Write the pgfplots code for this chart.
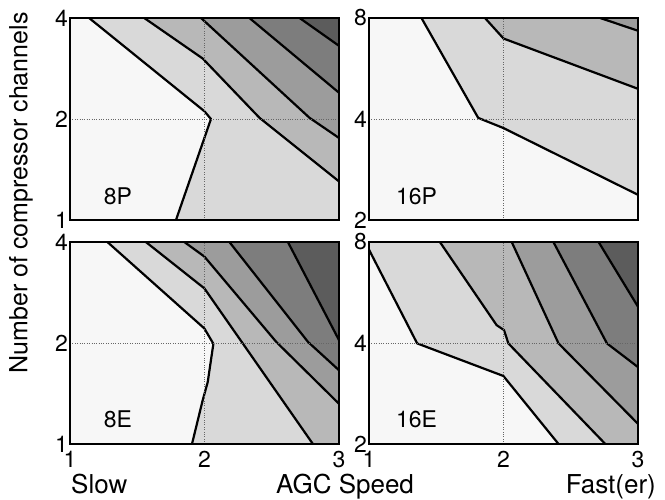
\documentclass[border=0pt]{standalone}
\usepackage{pgfplots}
\pgfplotsset{compat=1.18}
\usepackage{fontspec}
\setmainfont{TeX Gyre Heros}
\definecolor{c1}{HTML}{F7F7F7}
\definecolor{c2}{HTML}{D9D9D9}
\definecolor{c3}{HTML}{B8B8B8}
\definecolor{c4}{HTML}{9C9C9C}
\definecolor{c5}{HTML}{7D7D7D}
\definecolor{c6}{HTML}{5C5C5C}
\pgfplotsset{
  mypanel/.style={
    width=269bp, height=202bp, scale only axis, anchor=south west,
    xmin=1, xmax=3,
    xtick={1,2,3}, xticklabels={1,2,3},
    grid=major, major grid style={dotted, black!60, line width=0.8bp},
    axis line style={line width=2bp},
    major tick length=0pt,
    axis on top,
    axis background/.style={fill=c1},
    tick label style={font=\fontsize{23bp}{25bp}\selectfont},
    yticklabel style={inner sep=2bp},
    xticklabel style={inner sep=2bp, yshift=-5bp},
    /pgf/number format/assume math mode=true,
  },
}
\tikzset{
  cl/.style={black, line width=2.2bp, line join=round},
  plab/.style={anchor=base west, inner sep=0pt, font=\fontsize{23bp}{25bp}\selectfont},
}
\begin{document}
\begin{tikzpicture}
\path[use as bounding box] (0,0) rectangle (665bp,500bp);
% ---------- 8P ----------
\begin{axis}[mypanel, ymode=log, log basis y=2, at={(70bp,280bp)}, ymin=1, ymax=4, ytick={1,2,4}, yticklabels={1,2,4}, xticklabels={,,}]
\addplot[fill=c2,draw=none] coordinates {(1.142,4) (1.999,2.11) (2.048,2.0) (1.788,1) (3,1) (3,4)} -- cycle;
\addplot[fill=c3,draw=none] coordinates {(1.552,4) (1.986,3.03) (2.409,2.016) (3,1.303) (3,4)} -- cycle;
\addplot[fill=c4,draw=none] coordinates {(1.974,4) (2.781,2.016) (3,1.756) (3,4)} -- cycle;
\addplot[fill=c5,draw=none] coordinates {(2.334,4) (3,2.395) (3,4)} -- cycle;
\addplot[fill=c6,draw=none] coordinates {(2.707,4) (3,3.305) (3,4)} -- cycle;
\addplot[cl] coordinates {(1.142,4) (1.999,2.11) (2.048,2.0) (1.788,1)};
\addplot[cl] coordinates {(1.552,4) (1.986,3.03) (2.409,2.016) (3,1.303)};
\addplot[cl] coordinates {(1.974,4) (2.781,2.016) (3,1.756)};
\addplot[cl] coordinates {(2.334,4) (3,2.395)};
\addplot[cl] coordinates {(2.707,4) (3,3.305)};
\node[plab] at (rel axis cs:0.125,0.075) {8P};
\end{axis}
% ---------- 16P ----------
\begin{axis}[mypanel, ymode=log, log basis y=2, at={(369bp,280bp)}, ymin=2, ymax=8, ytick={2,4,8}, yticklabels={2,4,8}, xticklabels={,,}]
\addplot[fill=c2,draw=none] coordinates {(1.390,8) (1.812,4.03) (1.999,3.76) (3,2.377) (3,8)} -- cycle;
\addplot[fill=c3,draw=none] coordinates {(1.862,8) (2.0,6.95) (3,4.92) (3,8)} -- cycle;
\addplot[fill=c4,draw=none] coordinates {(2.719,8) (3,7.33) (3,8)} -- cycle;
\addplot[cl] coordinates {(1.390,8) (1.812,4.03) (1.999,3.76) (3,2.377)};
\addplot[cl] coordinates {(1.862,8) (2.0,6.95) (3,4.92)};
\addplot[cl] coordinates {(2.719,8) (3,7.33)};
\node[plab] at (rel axis cs:0.100,0.075) {16P};
\end{axis}
% ---------- 8E ----------
\begin{axis}[mypanel, ymode=log, log basis y=2, at={(70bp,56bp)}, ymin=1, ymax=4, ytick={1,2,4}, yticklabels={1,2,4}]
\addplot[fill=c2,draw=none] coordinates {(1.278,4) (1.999,2.21) (2.066,1.99) (2.024,1.53) (1.986,1.348) (1.907,1) (3,1) (3,4)} -- cycle;
\addplot[fill=c3,draw=none] coordinates {(1.564,4) (1.999,2.91) (2.806,1) (3,1) (3,4)} -- cycle;
\addplot[fill=c4,draw=none] coordinates {(1.850,4) (1.999,3.62) (2.533,2.016) (3,1.318) (3,4)} -- cycle;
\addplot[fill=c5,draw=none] coordinates {(2.185,4) (2.769,2.016) (3,1.659) (3,4)} -- cycle;
\addplot[fill=c6,draw=none] coordinates {(2.620,4) (3,2.04) (3,4)} -- cycle;
\addplot[cl] coordinates {(1.278,4) (1.999,2.21) (2.066,1.99) (2.024,1.53) (1.986,1.348) (1.907,1)};
\addplot[cl] coordinates {(1.564,4) (1.999,2.91) (2.806,1)};
\addplot[cl] coordinates {(1.850,4) (1.999,3.62) (2.533,2.016) (3,1.318)};
\addplot[cl] coordinates {(2.185,4) (2.769,2.016) (3,1.659)};
\addplot[cl] coordinates {(2.620,4) (3,2.04)};
\node[plab] at (rel axis cs:0.125,0.083) {8E};
\end{axis}
% ---------- 16E ----------
\begin{axis}[mypanel, ymode=log, log basis y=2, at={(369bp,56bp)}, ymin=2, ymax=8, ytick={2,4,8}, yticklabels={2,4,8}]
\addplot[fill=c2,draw=none] coordinates {(1,7.59) (1.358,3.99) (1.999,3.19) (2.409,2) (3,2) (3,8) (1,8)} -- cycle;
\addplot[fill=c3,draw=none] coordinates {(1.527,8) (1.949,4.52) (2.004,4.37) (2.036,3.99) (2.757,2) (3,2) (3,8)} -- cycle;
\addplot[fill=c4,draw=none] coordinates {(2.061,8) (2.409,3.99) (3,2.296) (3,8)} -- cycle;
\addplot[fill=c5,draw=none] coordinates {(2.371,8) (2.769,3.99) (3,3.39) (3,8)} -- cycle;
\addplot[fill=c6,draw=none] coordinates {(2.707,8) (3,5.13) (3,8)} -- cycle;
\addplot[cl] coordinates {(1,7.59) (1.358,3.99) (1.999,3.19) (2.409,2)};
\addplot[cl] coordinates {(1.527,8) (1.949,4.52) (2.004,4.37) (2.036,3.99) (2.757,2)};
\addplot[cl] coordinates {(2.061,8) (2.409,3.99) (3,2.296)};
\addplot[cl] coordinates {(2.371,8) (2.769,3.99) (3,3.39)};
\addplot[cl] coordinates {(2.707,8) (3,5.13)};
\node[plab] at (rel axis cs:0.100,0.083) {16E};
\end{axis}
\node[rotate=90, inner sep=0pt, font=\fontsize{25bp}{27bp}\selectfont] at (21bp,307bp) {Number of compressor channels};
\node[anchor=base west, inner sep=0pt, font=\fontsize{26bp}{28bp}\selectfont] at (71bp,6.5bp) {Slow};
\node[anchor=base, inner sep=0pt, font=\fontsize{26bp}{28bp}\selectfont] at (345bp,6.5bp) {AGC Speed};
\node[anchor=base east, inner sep=0pt, font=\fontsize{26bp}{28bp}\selectfont] at (656bp,6.5bp) {Fast(er)};
\end{tikzpicture}
\end{document}
